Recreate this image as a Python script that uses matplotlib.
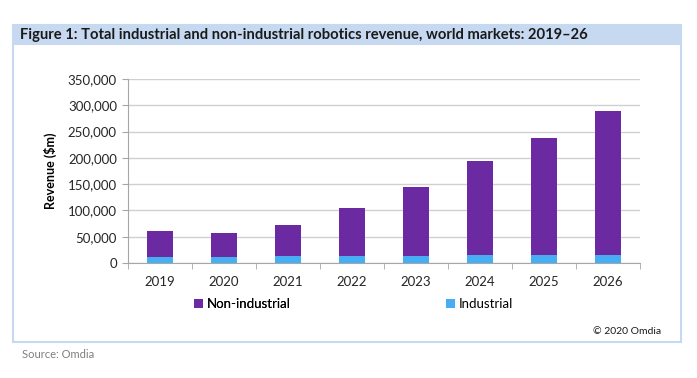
import numpy as np
import matplotlib.pyplot as plt
from matplotlib.patches import Rectangle

plt.rc('font', family=['Lato', 'DejaVu Sans'])

years = ['2019', '2020', '2021', '2022', '2023', '2024', '2025', '2026']
industrial = [11000, 11000, 12500, 13000, 13000, 14500, 15000, 15000]
total = [61000, 58000, 72000, 105000, 144000, 194000, 238000, 290000]
non_industrial = [t - i for t, i in zip(total, industrial)]

purple = '#6B2AA2'
blue = '#47AEF3'
W, H = 697, 378

fig = plt.figure(figsize=(W / 100, H / 100), dpi=100)

# outer frame and header band
fig.patches.append(Rectangle((13 / W, 1 - 342 / H), 668 / W, 317 / H, transform=fig.transFigure,
                             facecolor='white', edgecolor='#C5D9F1', lw=1.5, zorder=-2))
fig.patches.append(Rectangle((13 / W, 1 - 45 / H), 668 / W, 20 / H, transform=fig.transFigure,
                             facecolor='#C6D9F1', edgecolor='none', zorder=-1))
fig.text(20 / W, 1 - 35.5 / H, 'Figure 1: Total industrial and non-industrial robotics revenue, world markets: 2019\u201326',
         fontsize=10.6, fontweight='bold', va='center', ha='left', color='#1a1a1a')

ax = fig.add_axes([128 / W, 1 - 263 / H, 512 / W, 184 / H])
ax.set_zorder(2)
x = np.arange(len(years))
ax.bar(x, industrial, width=0.42, color=blue, label='Industrial', zorder=3)
ax.bar(x, non_industrial, width=0.42, bottom=industrial, color=purple, label='Non-industrial', zorder=3)

ax.set_xlim(-0.5, len(years) - 0.5)
ax.set_ylim(0, 350000)
ax.set_yticks(np.arange(0, 350001, 50000))
ax.set_yticklabels([f'{v:,}' for v in range(0, 350001, 50000)])
ax.set_xticks(x)
ax.set_xticklabels(years)
ax.set_xticks(np.arange(-0.5, len(years), 1), minor=True)
ax.tick_params(axis='x', which='major', length=0, pad=9, labelsize=9.5, colors='#262626')
ax.tick_params(axis='x', which='minor', length=4, color='#A6A6A6', direction='out')
ax.tick_params(axis='y', length=4, color='#A6A6A6', labelsize=9.5, colors='#262626', pad=4)
ax.yaxis.grid(True, color='#D0D0D0', lw=1, zorder=0)
ax.set_axisbelow(True)
for s in ['top', 'right']:
    ax.spines[s].set_visible(False)
for s in ['left', 'bottom']:
    ax.spines[s].set_color('#A6A6A6')
ax.set_ylabel('Revenue ($m)', fontsize=9, fontweight='bold', labelpad=8)

# legend
handles, labels = ax.get_legend_handles_labels()
leg1 = fig.legend([handles[1]], [labels[1]], loc='center left', bbox_to_anchor=(182 / W, 1 - 304 / H),
                  frameon=False, fontsize=9.5, handlelength=0.7, handleheight=0.7, handletextpad=0.3)
leg2 = fig.legend([handles[0]], [labels[0]], loc='center left', bbox_to_anchor=(434 / W, 1 - 304 / H),
                  frameon=False, fontsize=9.5, handlelength=0.7, handleheight=0.7, handletextpad=0.3)
fig.add_artist(leg1)

fig.text(661 / W, 1 - 332 / H, '\u00a9 2020 Omdia', fontsize=7.5, ha='right', va='center', color='#1a1a1a')
fig.text(22 / W, 1 - 355 / H, 'Source: Omdia', fontsize=8, ha='left', va='center', color='#7F7F7F')

fig.savefig('out.png', dpi=100)
